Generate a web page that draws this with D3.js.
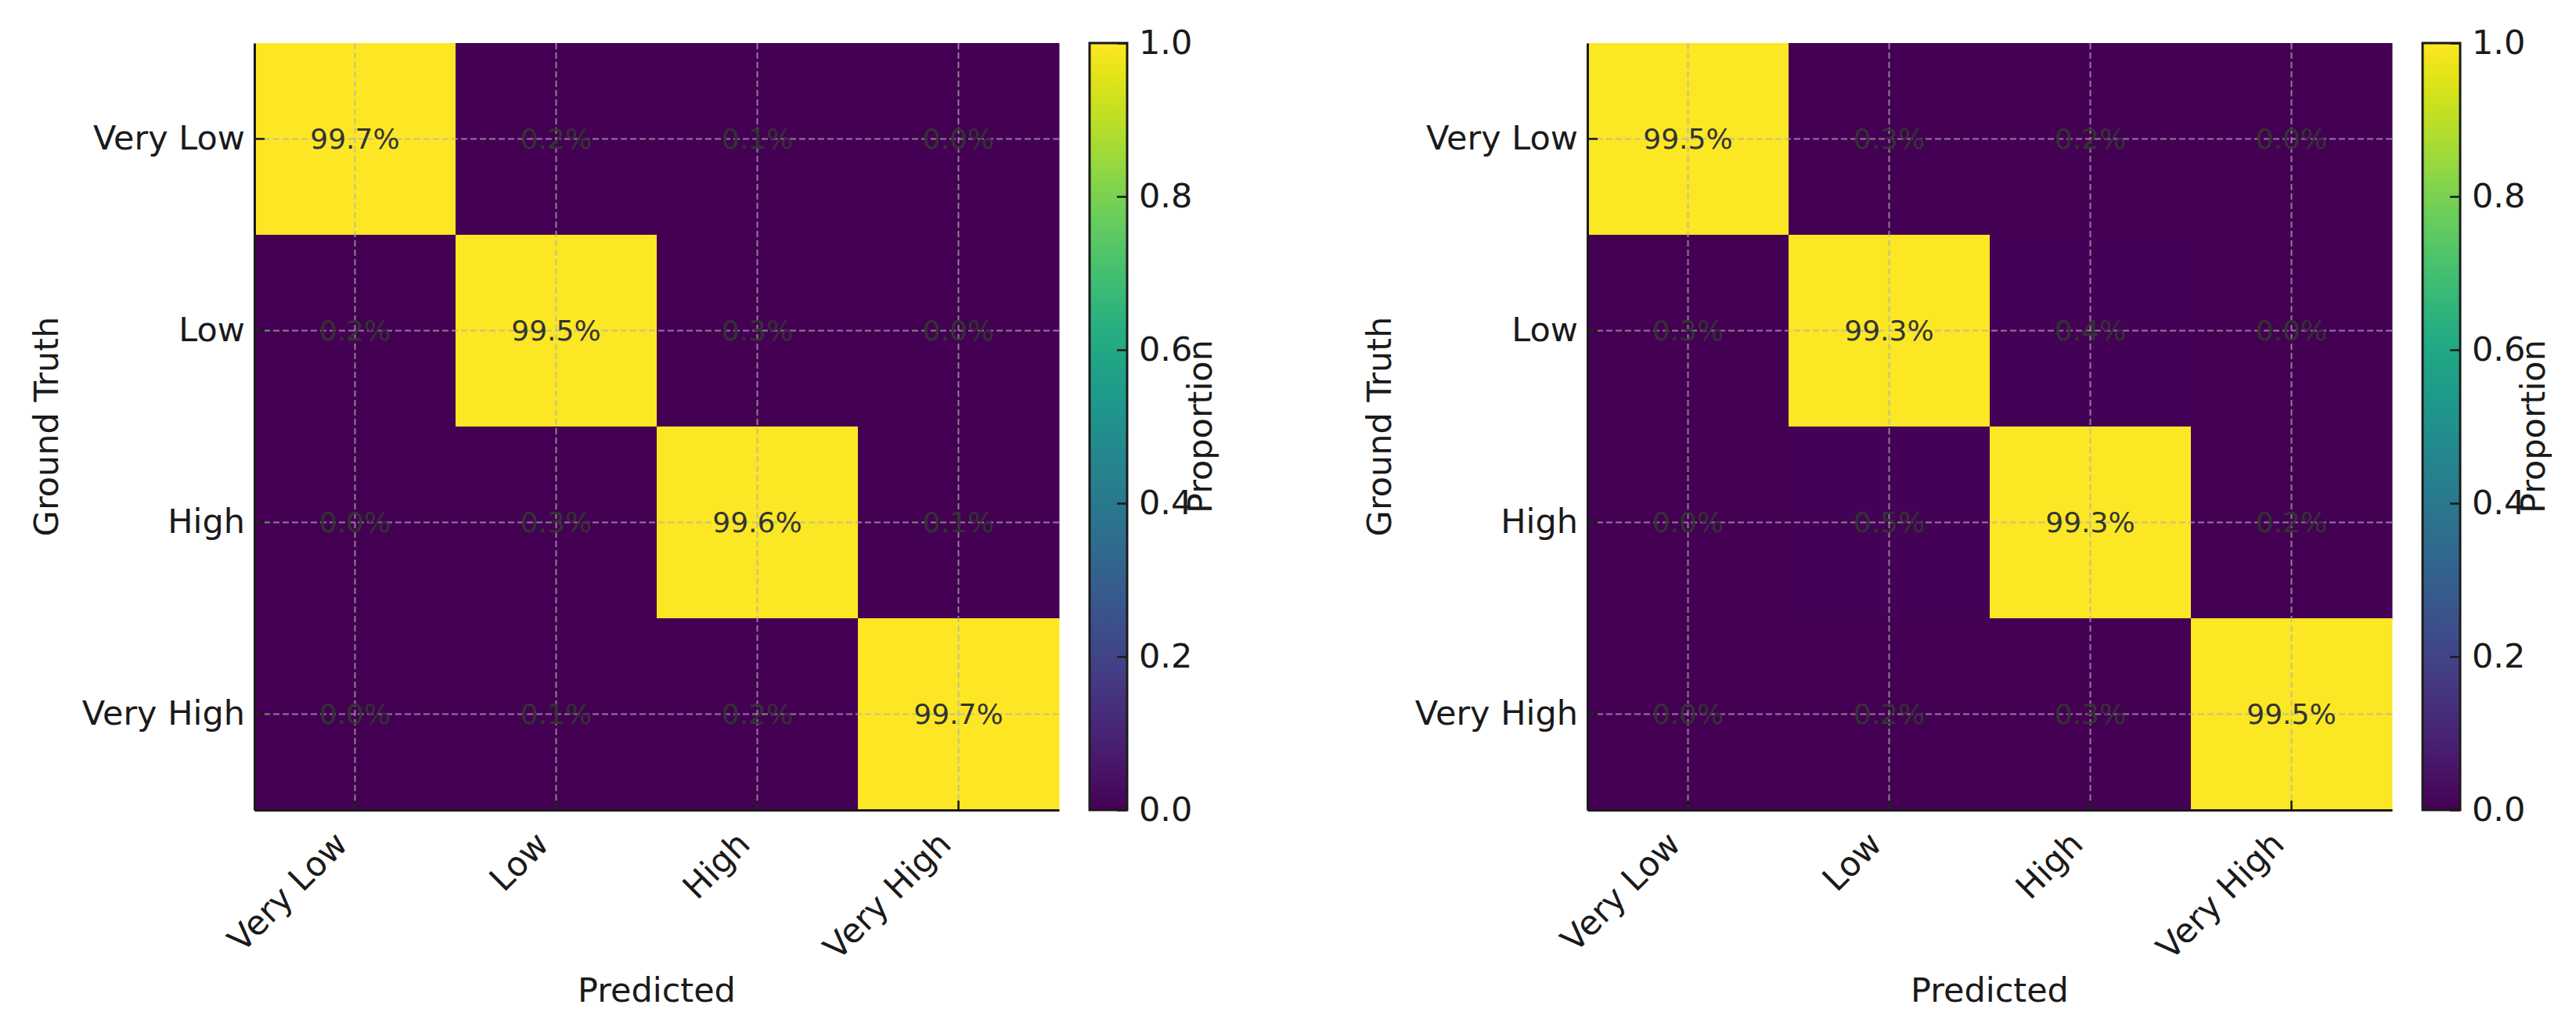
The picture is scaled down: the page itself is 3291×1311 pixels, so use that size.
<!DOCTYPE html>
<html>
<head>
<meta charset="utf-8">
<script src="https://cdn.jsdelivr.net/npm/d3@7"></script>
<style>
  body { margin: 0; background: #fff; }
  text { font-family: "DejaVu Sans", sans-serif; fill: #1a1a1a; }
</style>
</head>
<body>
<svg id="chart" width="3291" height="1311"></svg>
<script>
const classes = ["Very Low", "Low", "High", "Very High"];

// rows = ground truth, cols = predicted, values in percent
const leftMatrix = [
  [99.7, 0.2, 0.1, 0.0],
  [0.2, 99.5, 0.3, 0.0],
  [0.0, 0.3, 99.6, 0.1],
  [0.0, 0.1, 0.2, 99.7]
];
const rightMatrix = [
  [99.5, 0.3, 0.2, 0.0],
  [0.3, 99.3, 0.4, 0.0],
  [0.0, 0.5, 99.3, 0.2],
  [0.0, 0.2, 0.3, 99.5]
];
const colorbarTicks = [0, 0.2, 0.4, 0.6, 0.8, 1.0];

const svg = d3.select("#chart");
const color = d3.scaleSequential(d3.interpolateViridis).domain([0, 1]);

// shared gradient for the colorbars
const grad = svg.append("defs").append("linearGradient")
  .attr("id", "viridis")
  .attr("x1", 0).attr("y1", 1).attr("x2", 0).attr("y2", 0);
d3.range(0, 1.0001, 0.02).forEach((t) => {
  grad.append("stop").attr("offset", t).attr("stop-color", color(t));
});

const plotTop = 55, plotBottom = 1035;
const plotLeft = 325, plotRight = 1353;

function drawPanel(offsetX, matrix) {
  const g = svg.append("g").attr("transform", `translate(${offsetX},0)`);

  const x = d3.scaleBand().domain(classes).range([plotLeft, plotRight]);
  const y = d3.scaleBand().domain(classes).range([plotTop, plotBottom]);

  const cells = [];
  matrix.forEach((row, i) => row.forEach((v, j) => cells.push({ r: classes[i], c: classes[j], v })));

  g.selectAll("rect.cell")
    .data(cells)
    .enter()
    .append("rect")
    .attr("class", "cell")
    .attr("x", (d) => x(d.c))
    .attr("y", (d) => y(d.r))
    .attr("width", x.bandwidth() + 0.5)
    .attr("height", y.bandwidth() + 0.5)
    .attr("fill", (d) => color(d.v / 100));

  // dashed grid at tick centres
  const grid = g.append("g")
    .attr("stroke", "#b0b0b0")
    .attr("stroke-opacity", 0.7)
    .attr("stroke-width", 2)
    .attr("stroke-dasharray", "8,4");
  classes.forEach((c) => {
    const cx = x(c) + x.bandwidth() / 2;
    const cy = y(c) + y.bandwidth() / 2;
    grid.append("line").attr("x1", cx).attr("x2", cx).attr("y1", plotTop).attr("y2", plotBottom);
    grid.append("line").attr("x1", plotLeft).attr("x2", plotRight).attr("y1", cy).attr("y2", cy);
  });

  g.selectAll("text.ann")
    .data(cells)
    .enter()
    .append("text")
    .attr("class", "ann")
    .attr("x", (d) => x(d.c) + x.bandwidth() / 2)
    .attr("y", (d) => y(d.r) + y.bandwidth() / 2)
    .attr("dy", "0.36em")
    .attr("text-anchor", "middle")
    .style("font-size", "36px")
    .style("fill", "#333")
    .text((d) => d.v.toFixed(1) + "%");

  // y axis
  const yAxis = g.append("g")
    .attr("transform", `translate(${plotLeft},0)`)
    .call(d3.axisLeft(y).tickSize(-13).tickSizeOuter(0).tickPadding(12));
  yAxis.selectAll("text").style("font-size", "43px").style("font-family", "DejaVu Sans");

  // x axis
  const xAxis = g.append("g")
    .attr("transform", `translate(0,${plotBottom})`)
    .call(d3.axisBottom(x).tickSize(-12).tickSizeOuter(0));
  xAxis.selectAll("text")
    .style("font-size", "43px")
    .style("font-family", "DejaVu Sans")
    .attr("y", 0).attr("x", 0).attr("dy", 0)
    .attr("text-anchor", "end")
    .each(function () {
      const b = this.getBBox();
      const a = -Math.PI / 4;
      const pts = [[b.x, b.y], [b.x + b.width, b.y], [b.x, b.y + b.height], [b.x + b.width, b.y + b.height]]
        .map(([px, py]) => [px * Math.cos(a) - py * Math.sin(a), px * Math.sin(a) + py * Math.cos(a)]);
      const maxX = d3.max(pts, (p) => p[0]);
      const minY = d3.min(pts, (p) => p[1]);
      d3.select(this).attr("transform", `translate(${-maxX},${18 - minY}) rotate(-45)`);
    });

  [yAxis, xAxis].forEach((ax) => {
    ax.select(".domain").attr("stroke", "#1a1a1a").attr("stroke-width", 3);
    ax.selectAll(".tick line").attr("stroke", "#1a1a1a").attr("stroke-width", 2.5);
  });

  g.append("text")
    .attr("transform", `translate(74,${(plotTop + plotBottom) / 2}) rotate(-90)`)
    .attr("text-anchor", "middle")
    .style("font-size", "43px")
    .text("Ground Truth");

  g.append("text")
    .attr("x", (plotLeft + plotRight) / 2)
    .attr("y", 1280)
    .attr("text-anchor", "middle")
    .style("font-size", "43px")
    .text("Predicted");

  // colorbar
  const cbLeft = 1392, cbWidth = 48;
  const cb = d3.scaleLinear().domain([0, 1]).range([plotBottom, plotTop]);
  g.append("rect")
    .attr("x", cbLeft)
    .attr("y", plotTop)
    .attr("width", cbWidth)
    .attr("height", plotBottom - plotTop)
    .attr("fill", "url(#viridis)")
    .attr("stroke", "#1a1a1a")
    .attr("stroke-width", 3);

  const cbAxis = g.append("g")
    .attr("transform", `translate(${cbLeft + cbWidth},0)`)
    .call(d3.axisRight(cb).tickValues(colorbarTicks).tickSize(-13).tickPadding(15).tickFormat(d3.format(".1f")));
  cbAxis.select(".domain").remove();
  cbAxis.selectAll(".tick line").attr("stroke", "#1a1a1a").attr("stroke-width", 2.5);
  cbAxis.selectAll("text").style("font-size", "43px").style("font-family", "DejaVu Sans");

  g.append("text")
    .attr("transform", `translate(1548,${(plotTop + plotBottom) / 2}) rotate(-90)`)
    .attr("text-anchor", "middle")
    .style("font-size", "43px")
    .text("Proportion");
}

drawPanel(0, leftMatrix);
drawPanel(1703, rightMatrix);
</script>
</body>
</html>
